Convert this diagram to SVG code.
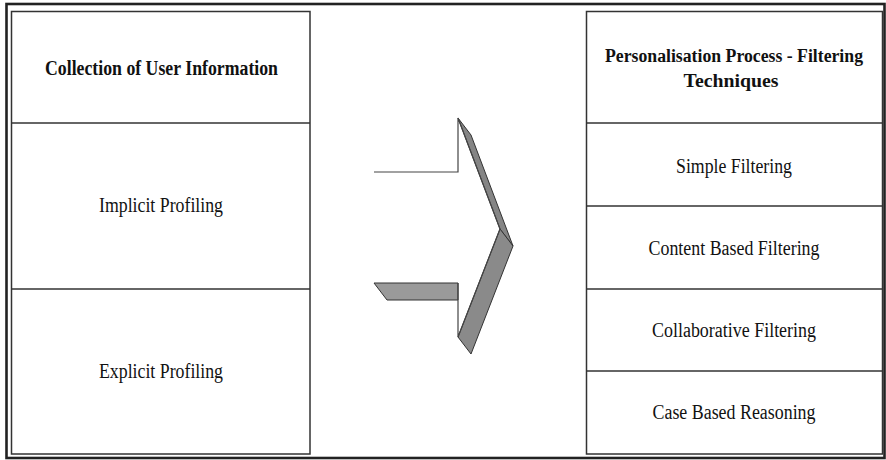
<svg xmlns="http://www.w3.org/2000/svg" width="886" height="460" viewBox="0 0 886 460">
<style>
.box{fill:#fff;stroke:#333;stroke-width:1.5}
.div{stroke:#333;stroke-width:1.5}
.t{font-family:"Liberation Serif","Times New Roman",serif;font-size:20px;fill:#111;text-anchor:middle}
.b{font-weight:bold}
.s{font-size:18.5px}
.edge{fill:none;stroke:#444;stroke-width:1.2;stroke-linejoin:miter}
.face{stroke:#333;stroke-width:1}
</style>
<rect x="0" y="0" width="886" height="460" fill="#fff"/>
<rect x="6.5" y="4" width="878" height="454" fill="none" stroke="#222" stroke-width="2.6"/>
<g id="left-node">
<rect class="box" x="11.5" y="11.5" width="298.5" height="442.5"/>
<line class="div" x1="11.5" y1="123" x2="310" y2="123"/>
<line class="div" x1="11.5" y1="289" x2="310" y2="289"/>
<text class="t b" x="161.5" y="75" textLength="233" lengthAdjust="spacingAndGlyphs">Collection of User Information</text>
<text class="t" x="161" y="212" textLength="124" lengthAdjust="spacingAndGlyphs">Implicit Profiling</text>
<text class="t" x="161" y="378" textLength="124" lengthAdjust="spacingAndGlyphs">Explicit Profiling</text>
</g>
<g id="right-node">
<rect class="box" x="586.5" y="11.5" width="296" height="442.5"/>
<line class="div" x1="586.5" y1="123" x2="882.5" y2="123"/>
<line class="div" x1="586.5" y1="206" x2="882.5" y2="206"/>
<line class="div" x1="586.5" y1="289" x2="882.5" y2="289"/>
<line class="div" x1="586.5" y1="371" x2="882.5" y2="371"/>
<text class="t b s" x="734" y="62" textLength="258" lengthAdjust="spacingAndGlyphs">Personalisation Process - Filtering</text>
<text class="t b s" x="731" y="87" textLength="95" lengthAdjust="spacingAndGlyphs">Techniques</text>
<text class="t" x="734" y="173" textLength="116" lengthAdjust="spacingAndGlyphs">Simple Filtering</text>
<text class="t" x="734" y="255" textLength="171" lengthAdjust="spacingAndGlyphs">Content Based Filtering</text>
<text class="t" x="734" y="337" textLength="164" lengthAdjust="spacingAndGlyphs">Collaborative Filtering</text>
<text class="t" x="734" y="419" textLength="163" lengthAdjust="spacingAndGlyphs">Case Based Reasoning</text>
</g>
<g id="connectors">
<polygon class="face" fill="#858585" points="458,118 471,135 513,246 500,229"/>
<polygon class="face" fill="#8a8a8a" points="500,229 513,246 471,354 458,337"/>
<polygon class="face" fill="#9a9a9a" points="374,283 458,283 458,300 387,300"/>
<polyline class="edge" points="374,172 458,172 458,118 500,229 458,337 458,283"/>
</g>
</svg>
